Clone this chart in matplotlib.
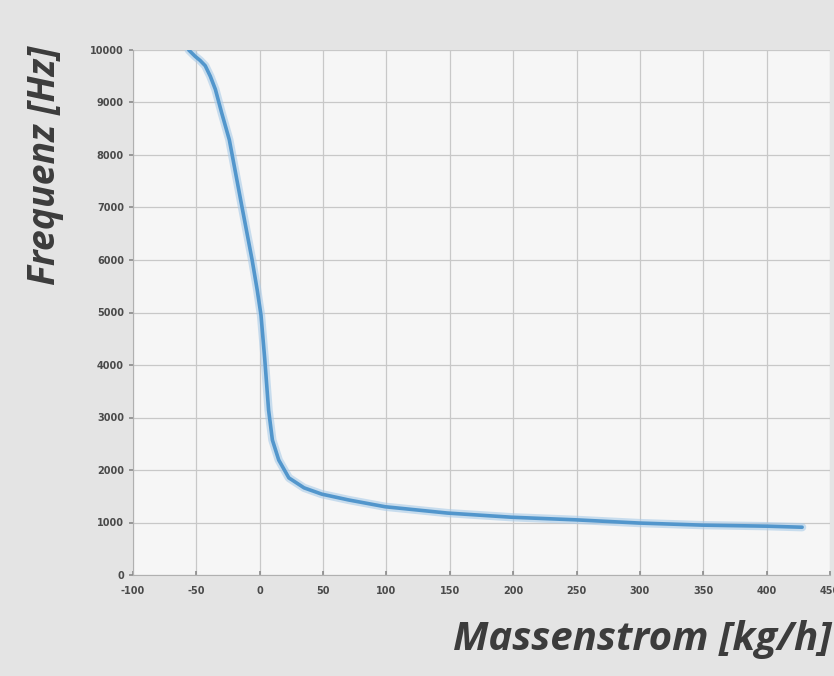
import numpy as np
import matplotlib.pyplot as plt

plt.rcParams['axes.unicode_minus'] = False

# curve
massenstrom = [-56, -51, -47, -43, -39, -35, -30, -24, -19, -14, -6, -2, 1, 4, 7, 10,
               15, 23, 35, 49, 70, 99, 148, 199, 250, 299, 349, 400, 428]
frequenz = [10000, 9880, 9800, 9700, 9500, 9250, 8800, 8290, 7650, 7010, 6000, 5430,
            4950, 4100, 3140, 2570, 2190, 1850, 1660, 1540, 1430, 1300, 1180, 1100,
            1050, 990, 950, 930, 910]

x_ticks = list(range(-100, 451, 50))
y_ticks = list(range(0, 10001, 1000))

fig = plt.figure(figsize=(8.34, 6.76), dpi=100, facecolor='#e4e4e4')
ax = fig.add_axes([133 / 834, 1 - 575 / 676, (830 - 133) / 834, (575 - 50) / 676])
ax.set_facecolor('#f6f6f6')

ax.plot(massenstrom, frequenz, color='#a9cbe8', lw=6, alpha=0.6,
        solid_capstyle='round', solid_joinstyle='round')
ax.plot(massenstrom, frequenz, color='#5296cc', lw=2.6,
        solid_capstyle='round', solid_joinstyle='round')

ax.set_xlim(-100, 450)
ax.set_ylim(0, 10000)
ax.set_xticks(x_ticks)
ax.set_yticks(y_ticks)
ax.grid(True, color='#c8c8c8', lw=0.9)
ax.set_axisbelow(True)
for s in ['top', 'right']:
    ax.spines[s].set_visible(False)
for s in ['left', 'bottom']:
    ax.spines[s].set_color('#b0b0b0')
ax.tick_params(axis='both', colors='#8a8a8a', labelcolor='#4a4a4a', labelsize=7,
               length=3, width=1.2)
ax.tick_params(axis='x', direction='in', pad=8)
for lbl in ax.get_xticklabels() + ax.get_yticklabels():
    lbl.set_fontweight('bold')

fig.text(0.997, 0.025, 'Massenstrom [kg/h]', ha='right', va='bottom', fontsize=29,
         fontstyle='italic', fontweight='bold', color='#3c3c3c', family='Open Sans')
fig.text(0.054, 1 - 165 / 676, 'Frequenz [Hz]', ha='center', va='center', rotation=90,
         fontsize=27, fontstyle='italic', fontweight='bold', color='#3c3c3c',
         family='Open Sans')

fig.savefig('out.png', dpi=100, facecolor=fig.get_facecolor())
